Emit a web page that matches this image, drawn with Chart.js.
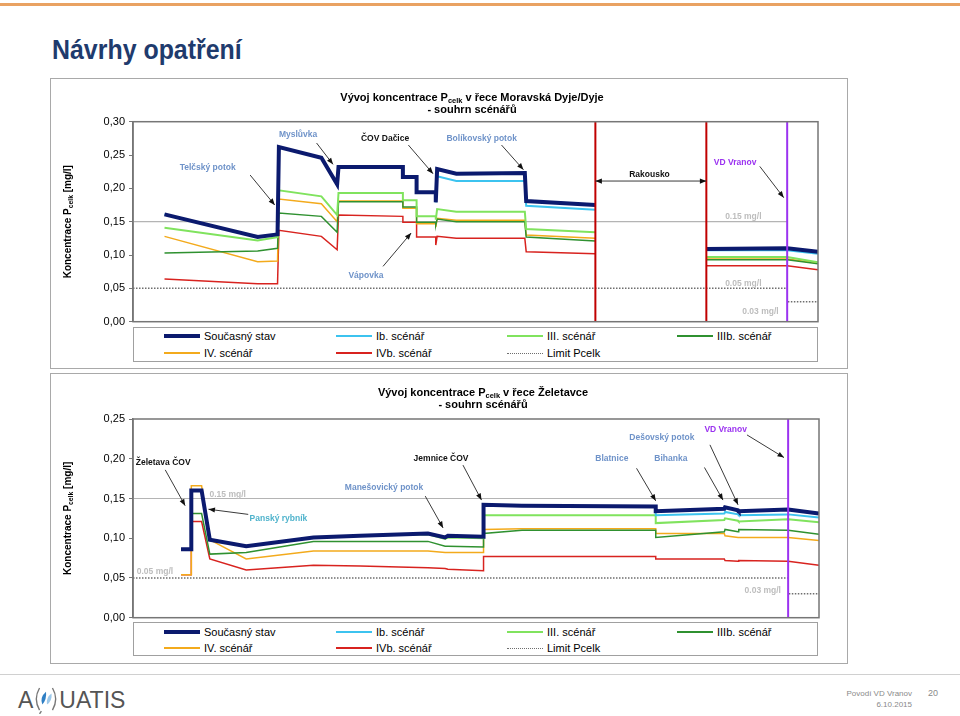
<!DOCTYPE html>
<html lang="cs">
<head>
<meta charset="utf-8">
<title>Návrhy opatření</title>
<script src="https://cdn.jsdelivr.net/npm/chart.js@4.4.1/dist/chart.umd.min.js"></script>
<style>
  html, body { margin: 0; padding: 0; }
  body { width: 960px; height: 716px; position: relative; overflow: hidden; background: #fff;
         font-family: Arial, "Liberation Sans", sans-serif; }
  .topline { position: absolute; left: 0; top: 3px; width: 960px; height: 3px; background: #e9a262; }
  h1 { position: absolute; left: 52px; top: 36px; margin: 0; font: bold 28px/28px Arial, "Liberation Sans", sans-serif;
       color: #1f3b6d; transform: scaleX(0.89); transform-origin: 0 0; white-space: nowrap; }
  .box { position: absolute; left: 50px; width: 796px; height: 289px; border: 1px solid #a9a9a9; }
  .box canvas { position: absolute; left: 0; top: 0; }
  .legend { position: absolute; left: 82px; top: 248px; width: 683px; border: 1px solid #a0a0a0; background: #fff; }
  .legend .item { position: absolute; height: 14px; display: flex; align-items: center; font-size: 11px; color: #000; white-space: nowrap; }
  .legend .line { display: inline-block; width: 36px; height: 0; margin-right: 4px; }
  .footline { position: absolute; left: 0; top: 674px; width: 960px; height: 1px; background: #d0d0d0; }
  .logo { position: absolute; left: 18px; top: 686px; font: 23px/24px Arial, "Liberation Sans", sans-serif; color: #555;
          display: flex; align-items: center; }
  .logo svg { margin: 0 1px; }
  .foot { position: absolute; font-size: 8px; color: #8a8a8a; text-align: right; }
</style>
</head>
<body>
<div class="topline"></div>
<h1>Návrhy opatření</h1>

<div class="box" style="top:78px">
  <canvas id="dyje" width="796" height="289"></canvas>
  <div class="legend" id="dyjeLegend" style="height:33px"></div>
</div>

<div class="box" style="top:373px">
  <canvas id="zel" width="796" height="289"></canvas>
  <div class="legend" id="zelLegend" style="height:32px"></div>
</div>

<div class="footline"></div>
<div class="logo">A<svg width="24" height="28" viewBox="0 0 26 30">
  <path d="M6 2 Q-1 14 6 26" stroke="#777" stroke-width="1.5" fill="none"/>
  <path d="M20 2 Q27 14 20 26" stroke="#777" stroke-width="1.5" fill="none"/>
  <path d="M9 20 Q6 12 13 6 Q14 14 9 20Z" fill="#2f7fc4"/>
  <path d="M14 20 Q13 12 19 8 Q20 16 14 20Z" fill="#9cc8ea"/>
  <path d="M8 27 L6 30" stroke="#777" stroke-width="1.5"/>
</svg>UATIS</div>
<div class="foot" style="left:800px;top:689px;width:112px">Povodí VD Vranov</div>
<div class="foot" style="left:800px;top:700px;width:112px">6.10.2015</div>
<div class="foot" style="left:928px;top:688px;font-size:9px">20</div>

<script>
// ---- Moravská Dyje / Dyje (hidden x axis = relative river position 0-100) ----
const dyjeKm       = [4.6, 18.2, 21.1, 21.3, 27.5, 29.8, 30.0, 39.4, 39.4, 41.4, 41.4, 44.2, 44.2, 44.4, 47.2, 57.2, 57.4, 67.5, 75.0, 83.7, 95.5, 100];
const dyjeSoucasny = [0.161, 0.127, 0.131, 0.262, 0.246, 0.206, 0.232, 0.232, 0.217, 0.217, 0.194, 0.194, 0.179, 0.229, 0.222, 0.223, 0.181, 0.175, null, 0.109, 0.110, 0.105];
const dyjeIb       = [0.161, 0.127, 0.131, 0.262, 0.246, 0.206, 0.232, 0.232, 0.217, 0.217, 0.194, 0.194, 0.179, 0.218, 0.211, 0.211, 0.174, 0.168, null, 0.107, 0.107, 0.102];
const dyjeIII      = [0.141, 0.122, 0.127, 0.197, 0.188, 0.160, 0.193, 0.193, 0.182, 0.182, 0.158, 0.158, 0.153, 0.169, 0.165, 0.165, 0.139, 0.134, null, 0.097, 0.097, 0.089];
const dyjeIIIb     = [0.103, 0.106, 0.110, 0.163, 0.158, 0.134, 0.180, 0.180, 0.172, 0.172, 0.149, 0.149, 0.145, 0.154, 0.150, 0.150, 0.127, 0.121, null, 0.093, 0.093, 0.087];
const dyjeIV       = [0.128, 0.090, 0.091, 0.184, 0.177, 0.150, 0.181, 0.181, 0.170, 0.170, 0.147, 0.147, 0.142, 0.155, 0.152, 0.152, 0.130, 0.125, null, 0.094, 0.094, 0.088];
const dyjeIVb      = [0.064, 0.057, 0.057, 0.137, 0.128, 0.108, 0.160, 0.158, 0.149, 0.149, 0.127, 0.127, 0.115, 0.128, 0.125, 0.125, 0.105, 0.102, null, 0.084, 0.084, 0.078];
const dyjeHranice  = [67.5, 83.7];   // Rakousko

// ---- Želetavka ----
const zelKm       = [7.0, 8.5, 8.5, 10.0, 11.2, 16.5, 26.3, 33.1, 43.0, 45.5, 45.9, 51.1, 51.1, 56.7, 76.2, 76.2, 86.2, 86.3, 88.2, 88.3, 95.5, 100];
const zelSoucasny = [0.086, 0.086, 0.160, 0.160, 0.098, 0.090, 0.101, 0.103, 0.106, 0.101, 0.103, 0.102, 0.142, 0.141, 0.140, 0.134, 0.137, 0.139, 0.135, 0.134, 0.136, 0.131];
const zelIb       = [0.086, 0.086, 0.160, 0.160, 0.098, 0.090, 0.101, 0.103, 0.106, 0.101, 0.103, 0.102, 0.142, 0.141, 0.140, 0.129, 0.131, 0.133, 0.130, 0.129, 0.130, 0.126];
const zelIII      = [0.086, 0.086, 0.160, 0.160, 0.098, 0.090, 0.101, 0.103, 0.105, 0.099, 0.101, 0.100, 0.129, 0.129, 0.129, 0.119, 0.123, 0.125, 0.122, 0.121, 0.124, 0.120];
const zelIIIb     = [0.086, 0.086, 0.131, 0.131, 0.080, 0.082, 0.096, 0.096, 0.096, 0.090, 0.090, 0.089, 0.106, 0.110, 0.110, 0.101, 0.108, 0.111, 0.108, 0.111, 0.110, 0.105];
const zelIV       = [0.054, 0.054, 0.166, 0.166, 0.098, 0.074, 0.084, 0.084, 0.084, 0.082, 0.082, 0.082, 0.111, 0.112, 0.112, 0.106, 0.106, 0.103, 0.101, 0.101, 0.101, 0.097];
const zelIVb      = [0.054, 0.054, 0.121, 0.121, 0.074, 0.060, 0.066, 0.065, 0.063, 0.062, 0.061, 0.059, 0.077, 0.077, 0.077, 0.074, 0.074, 0.072, 0.071, 0.072, 0.071, 0.066];

// ---- limits (same for both rivers), VD Vranov position ----
const limitKm    = [0, 95.5, 95.5, 95.6, 100];
const limitPcelk = [0.05, 0.05, null, 0.03, 0.03];
const limit015Km = [0, 95.5];
const limit015   = [0.15, 0.15];
const vranovKm   = 95.5;

const scenarios = [
  { label: 'Současný stav', color: '#0b1a6e', width: 4 },
  { label: 'Ib. scénář',    color: '#3cc3ef', width: 2 },
  { label: 'III. scénář',   color: '#80e35e', width: 2 },
  { label: 'IIIb. scénář',  color: '#2f9130', width: 1.5 },
  { label: 'IV. scénář',    color: '#f3aa1c', width: 1.5 },
  { label: 'IVb. scénář',   color: '#d8231f', width: 1.5 }
];

const BLUE = '#6f93c9', PURPLE = '#9b33f0', GREY = '#bdbdbd', BLACK = '#111';

Chart.defaults.font.family = 'Arial, "Liberation Sans", sans-serif';
Chart.defaults.color = '#000';

const pts = (xs, ys) => xs.map((x, i) => ({ x, y: ys[i] }));
const fmt = v => v.toFixed(2).replace('.', ',');

function buildDatasets(km, values) {
  const sets = values.map((ys, i) => ({
    label: scenarios[i].label,
    data: pts(km, ys),
    borderColor: scenarios[i].color,
    borderWidth: scenarios[i].width,
    pointRadius: 0, tension: 0, fill: false, spanGaps: false
  }));
  sets.push({ label: 'Limit Pcelk', data: pts(limitKm, limitPcelk), borderColor: '#6e6e6e',
              borderWidth: 1.5, borderDash: [1.5, 1.5], pointRadius: 0, spanGaps: false });
  sets.push({ label: '0.15 mg/l', hideInLegend: true, data: pts(limit015Km, limit015),
              borderColor: '#b4b4b4', borderWidth: 1.2, pointRadius: 0 });
  return sets;
}

function richText(ctx, parts, cx, cy, size) {
  let w = 0;
  parts.forEach(p => {
    ctx.font = `bold ${p.sub ? size * 0.68 : size}px Arial, "Liberation Sans", sans-serif`;
    p.w = ctx.measureText(p.t).width;
    w += p.w;
  });
  let x = cx - w / 2;
  ctx.textAlign = 'left';
  ctx.textBaseline = 'middle';
  parts.forEach(p => {
    ctx.font = `bold ${p.sub ? size * 0.68 : size}px Arial, "Liberation Sans", sans-serif`;
    ctx.fillText(p.t, x, cy + (p.sub ? size * 0.3 : 0));
    x += p.w;
  });
}

function arrowHead(ctx, x1, y1, x2, y2) {
  const a = Math.atan2(y2 - y1, x2 - x1), L = 7;
  ctx.beginPath();
  ctx.moveTo(x2, y2);
  ctx.lineTo(x2 - L * Math.cos(a - 0.38), y2 - L * Math.sin(a - 0.38));
  ctx.lineTo(x2 - L * Math.cos(a + 0.38), y2 - L * Math.sin(a + 0.38));
  ctx.closePath();
  ctx.fill();
}

function overlay(cfg) {
  return {
    id: 'overlay',
    afterDatasetsDraw(chart) {
      const { ctx, chartArea: a, scales: { x, y } } = chart;
      ctx.save();
      // vertical markers
      cfg.markers.forEach(m => {
        const px = x.getPixelForValue(m.x);
        ctx.strokeStyle = m.color; ctx.lineWidth = 2;
        ctx.beginPath(); ctx.moveTo(px, a.top); ctx.lineTo(px, a.bottom); ctx.stroke();
      });
      // plot frame
      ctx.strokeStyle = '#767676'; ctx.lineWidth = 1.5;
      ctx.strokeRect(a.left, a.top, a.width, a.height);
      // labels + arrows
      ctx.strokeStyle = '#3a3a3a'; ctx.fillStyle = '#111'; ctx.lineWidth = 1;
      cfg.notes.forEach(n => {
        if (n.from) {
          const x1 = x.getPixelForValue(n.from[0]), y1 = y.getPixelForValue(n.from[1]);
          const x2 = x.getPixelForValue(n.to[0]), y2 = y.getPixelForValue(n.to[1]);
          ctx.beginPath(); ctx.moveTo(x1, y1); ctx.lineTo(x2, y2); ctx.stroke();
          ctx.fillStyle = '#111';
          arrowHead(ctx, x1, y1, x2, y2);
          if (n.both) arrowHead(ctx, x2, y2, x1, y1);
        }
        if (n.text) {
          ctx.font = 'bold 8.5px Arial, "Liberation Sans", sans-serif';
          ctx.fillStyle = n.color;
          ctx.textAlign = 'center'; ctx.textBaseline = 'middle';
          ctx.fillText(n.text, x.getPixelForValue(n.x), y.getPixelForValue(n.y));
        }
      });
      ctx.restore();
    },
    afterDraw(chart) {
      const { ctx, chartArea: a } = chart;
      ctx.save();
      ctx.fillStyle = '#000';
      richText(ctx, cfg.title, cfg.titleX, cfg.titleY, 11);
      richText(ctx, [{ t: '- souhrn scénářů' }], cfg.titleX, cfg.titleY + 12.5, 11);
      ctx.translate(17, (a.top + a.bottom) / 2);
      ctx.rotate(-Math.PI / 2);
      richText(ctx, [{ t: 'Koncentrace P' }, { t: 'celk', sub: true }, { t: ' [mg/l]' }], 0, 0, 10);
      ctx.restore();
    }
  };
}

function htmlLegend(el, chart, rows) {
  const cols = [30, 202, 373, 543];
  chart.data.datasets.filter(d => !d.hideInLegend).forEach((d, i) => {
    const item = document.createElement('div');
    item.className = 'item';
    item.style.left = cols[i % 4] + 'px';
    item.style.top = Math.round(rows[Math.floor(i / 4)] - 7) + 'px';
    const line = document.createElement('span');
    line.className = 'line';
    const w = Math.max(1, Math.round(d.borderWidth));
    line.style.borderTop = d.borderDash ? `1px dotted ${d.borderColor}` : `${w}px solid ${d.borderColor}`;
    item.append(line, d.label);
    el.append(item);
  });
}

function makeChart(id, legendId, cfg) {
  const chart = new Chart(document.getElementById(id), {
    type: 'line',
    data: { datasets: buildDatasets(cfg.km, cfg.values) },
    options: {
      responsive: false,
      animation: false,
      layout: { padding: cfg.padding },
      scales: {
        x: { type: 'linear', min: 0, max: 100, display: false },
        y: {
          min: 0, max: cfg.yMax,
          ticks: { stepSize: 0.05, callback: v => fmt(v), font: { size: 11 }, color: '#000', padding: 4 },
          grid: { display: true, drawOnChartArea: false, tickLength: 4, color: '#777' },
          border: { display: true, color: '#767676', width: 1.5 },
          afterFit: s => { s.width = 50; }
        }
      },
      plugins: { legend: { display: false }, tooltip: { enabled: false } }
    },
    plugins: [overlay(cfg)]
  });
  htmlLegend(document.getElementById(legendId), chart, cfg.legendRows);
  return chart;
}

makeChart('dyje', 'dyjeLegend', {
  km: dyjeKm,
  values: [dyjeSoucasny, dyjeIb, dyjeIII, dyjeIIIb, dyjeIV, dyjeIVb],
  yMax: 0.30,
  padding: { left: 32, top: 42.7, right: 29, bottom: 46.3 },
  title: [{ t: 'Vývoj koncentrace P' }, { t: 'celk', sub: true }, { t: ' v řece Moravská Dyje/Dyje' }],
  titleX: 421, titleY: 18.5,
  legendRows: [8, 25],
  markers: [
    { x: dyjeHranice[0], color: '#c00000' },
    { x: dyjeHranice[1], color: '#c00000' },
    { x: vranovKm, color: PURPLE }
  ],
  notes: [
    { text: 'Telčský potok', x: 10.9, y: 0.231, color: BLUE, from: [17.1, 0.220], to: [20.7, 0.175] },
    { text: 'Myslůvka', x: 24.1, y: 0.280, color: BLUE, from: [26.8, 0.268], to: [29.2, 0.236] },
    { text: 'ČOV Dačice', x: 36.8, y: 0.274, color: BLACK, from: [40.2, 0.265], to: [43.8, 0.222] },
    { text: 'Bolíkovský potok', x: 50.9, y: 0.274, color: BLUE, from: [53.8, 0.265], to: [57.0, 0.228] },
    { text: 'Vápovka', x: 34.0, y: 0.069, color: BLUE, from: [36.5, 0.083], to: [40.6, 0.133] },
    { text: 'Rakousko', x: 75.4, y: 0.221, color: BLACK },
    { from: [dyjeHranice[0], 0.211], to: [dyjeHranice[1], 0.211], both: true },
    { text: 'VD Vranov', x: 87.9, y: 0.238, color: PURPLE, from: [91.5, 0.233], to: [95.0, 0.186] },
    { text: '0.15 mg/l', x: 89.1, y: 0.1575, color: GREY },
    { text: '0.05 mg/l', x: 89.1, y: 0.0566, color: GREY },
    { text: '0.03 mg/l', x: 91.6, y: 0.015, color: GREY }
  ]
});

makeChart('zel', 'zelLegend', {
  km: zelKm,
  values: [zelSoucasny, zelIb, zelIII, zelIIIb, zelIV, zelIVb],
  yMax: 0.25,
  padding: { left: 32, top: 45, right: 28, bottom: 45.3 },
  title: [{ t: 'Vývoj koncentrace P' }, { t: 'celk', sub: true }, { t: ' v řece Želetavce' }],
  titleX: 432, titleY: 18.5,
  legendRows: [9, 25],
  markers: [{ x: vranovKm, color: PURPLE }],
  notes: [
    { text: 'Želetava ČOV', x: 4.4, y: 0.195, color: BLACK, from: [4.7, 0.186], to: [7.6, 0.141] },
    { text: 'Panský rybník', x: 21.2, y: 0.125, color: '#4fb3cc', from: [16.8, 0.130], to: [11.0, 0.1365] },
    { text: 'Manešovický potok', x: 36.6, y: 0.164, color: BLUE, from: [42.6, 0.153], to: [45.2, 0.113] },
    { text: 'Jemnice ČOV', x: 44.9, y: 0.1995, color: BLACK, from: [48.1, 0.192], to: [50.8, 0.148] },
    { text: 'Blatnice', x: 69.8, y: 0.2007, color: BLUE, from: [73.4, 0.188], to: [76.2, 0.147] },
    { text: 'Bihanka', x: 78.4, y: 0.2007, color: BLUE, from: [83.3, 0.189], to: [86.0, 0.148] },
    { text: 'Dešovský potok', x: 77.1, y: 0.226, color: BLUE, from: [84.1, 0.2175], to: [88.2, 0.142] },
    { text: 'VD Vranov', x: 86.4, y: 0.2364, color: PURPLE, from: [89.5, 0.230], to: [94.9, 0.2015] },
    { text: '0.15 mg/l', x: 13.8, y: 0.1545, color: GREY },
    { text: '0.05 mg/l', x: 3.2, y: 0.058, color: GREY },
    { text: '0.03 mg/l', x: 91.8, y: 0.034, color: GREY }
  ]
});
</script>
</body>
</html>
